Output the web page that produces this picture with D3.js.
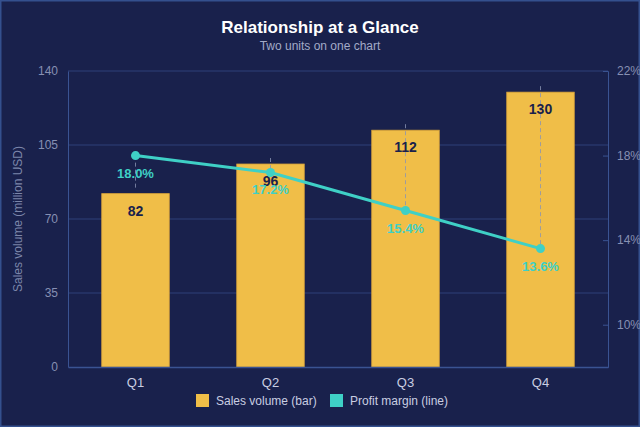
<!DOCTYPE html>
<html><head><meta charset="utf-8">
<script src="https://cdn.jsdelivr.net/npm/d3@7"></script>
<style>html,body{margin:0;padding:0;background:#19214c;}svg{display:block;font-family:"Liberation Sans",Arial,sans-serif;}</style>
</head><body><svg id="c" width="640" height="427"></svg>
<script>
const categories = ["Q1","Q2","Q3","Q4"];
const salesVolume = [82, 96, 112, 130];
const profitMargin = [18.0, 17.2, 15.4, 13.6];
const leftTicks = [0, 35, 70, 105, 140];
const rightTicks = [10, 14, 18, 22];
const seriesNames = ["Sales volume (bar)", "Profit margin (line)"];

const W = 640, H = 427;
const m = {l: 68, r: 32, t: 71, b: 60};
const svg = d3.select("#c");
svg.append("rect").attr("x",0.5).attr("y",0.5).attr("width",W-1).attr("height",H-1)
  .attr("fill","#19214c").attr("stroke","#34508e").attr("stroke-width",2);

const x = d3.scaleBand().domain(categories).range([m.l, W-m.r]).paddingInner(0.5).paddingOuter(0.25);
const y = d3.scaleLinear().domain([0,140]).range([H-m.b, m.t]);
const y2 = d3.scaleLinear().domain([8,22]).range([H-m.b, m.t]);

// gridlines
svg.append("g").selectAll("line").data(leftTicks.slice(1)).join("line")
  .attr("x1", m.l).attr("x2", W-m.r).attr("y1", d=>y(d)).attr("y2", d=>y(d))
  .attr("stroke","#2f4079").attr("stroke-width",1);

// left axis
const gl = svg.append("g").attr("transform",`translate(${m.l},0)`)
  .call(d3.axisLeft(y).tickValues(leftTicks).tickSize(0).tickPadding(10));
gl.select(".domain").attr("stroke","#3a5392");
gl.selectAll("text").attr("fill","#8790b3").attr("font-size",12);

// right axis
const gr = svg.append("g").attr("transform",`translate(${W-m.r},0)`)
  .call(d3.axisRight(y2).tickValues(rightTicks).tickSize(-5).tickPadding(9).tickFormat(d=>d+"%"));
gr.select(".domain").attr("stroke","#3a5392");
gr.selectAll("line").attr("stroke","#3a5392");
gr.selectAll("text").attr("fill","#8790b3").attr("font-size",12);

// bars
svg.append("g").selectAll("rect").data(categories).join("rect")
  .attr("x", d=>x(d)).attr("width", x.bandwidth())
  .attr("y", (d,i)=>y(salesVolume[i])).attr("height",(d,i)=>y(0)-y(salesVolume[i]))
  .attr("fill","#f0be48").attr("stroke","#d9a43a").attr("stroke-width",0.8);

// bottom axis
const gb = svg.append("g").attr("transform",`translate(0,${H-m.b})`)
  .call(d3.axisBottom(x).tickSize(0).tickPadding(11));
gb.select(".domain").attr("stroke","#3a5392").attr("stroke-width",1.5);
gb.selectAll("text").attr("fill","#c9cee2").attr("font-size",13);

// dashed connectors
svg.append("g").selectAll("line").data(categories).join("line")
  .attr("x1", d=>x(d)+x.bandwidth()/2).attr("x2", d=>x(d)+x.bandwidth()/2)
  .attr("y1", (d,i)=>y(salesVolume[i])-6).attr("y2",(d,i)=>y2(profitMargin[i]))
  .attr("stroke","#8a93b3").attr("stroke-opacity",0.8).attr("stroke-dasharray","4,3").attr("stroke-width",1);

// bar labels
svg.append("g").selectAll("text").data(categories).join("text")
  .attr("x", d=>x(d)+x.bandwidth()/2).attr("y",(d,i)=>y(salesVolume[i])+22)
  .attr("text-anchor","middle").attr("font-size",14).attr("font-weight","bold").attr("fill","#19214c")
  .text((d,i)=>salesVolume[i]);

// line
const line = d3.line().x((d,i)=>x(categories[i])+x.bandwidth()/2).y(d=>y2(d));
svg.append("path").datum(profitMargin).attr("d",line).attr("fill","none")
  .attr("stroke","#3fd0c6").attr("stroke-width",3);
svg.append("g").selectAll("circle").data(profitMargin).join("circle")
  .attr("cx",(d,i)=>x(categories[i])+x.bandwidth()/2).attr("cy",d=>y2(d)).attr("r",4.5)
  .attr("fill","#3fd0c6");
svg.append("g").selectAll("text").data(profitMargin).join("text")
  .attr("x",(d,i)=>x(categories[i])+x.bandwidth()/2).attr("y",d=>y2(d)+22)
  .attr("text-anchor","middle").attr("font-size",13).attr("font-weight","bold").attr("fill","#3fd0c6")
  .text(d=>d.toFixed(1)+"%");

// y axis title
svg.append("text").attr("transform",`translate(22,${(m.t+H-m.b)/2}) rotate(-90)`)
  .attr("text-anchor","middle").attr("font-size",12).attr("fill","#7c86aa")
  .text("Sales volume (million USD)");

// title
svg.append("text").attr("x",W/2).attr("y",33).attr("text-anchor","middle")
  .attr("font-size",17).attr("font-weight","bold").attr("fill","#ffffff").text("Relationship at a Glance");
svg.append("text").attr("x",W/2).attr("y",50).attr("text-anchor","middle")
  .attr("font-size",12).attr("fill","#a3abc8").text("Two units on one chart");

// legend
const legColors = ["#f0be48","#3fd0c6"];
const lg = svg.append("g");
const legX = [196, 330];
seriesNames.forEach((n,i)=>{
  lg.append("rect").attr("x",legX[i]).attr("y",394).attr("width",13).attr("height",13).attr("fill",legColors[i]);
  lg.append("text").attr("x",legX[i]+20).attr("y",405).attr("font-size",12).attr("fill","#c9cee2").text(n);
});
</script></body></html>
